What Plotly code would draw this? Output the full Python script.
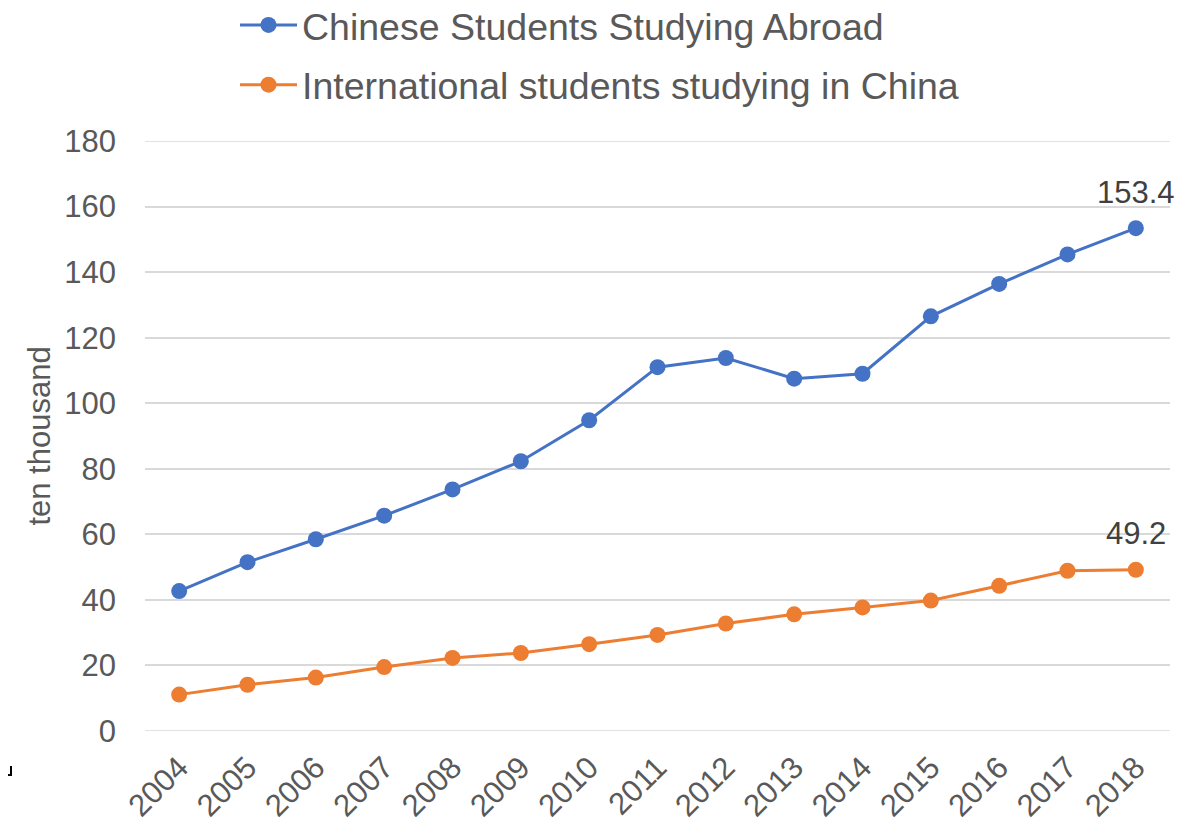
import plotly.graph_objects as go

years = ["2004", "2005", "2006", "2007", "2008", "2009", "2010", "2011",
         "2012", "2013", "2014", "2015", "2016", "2017", "2018"]
abroad = [42.7, 51.5, 58.5, 65.7, 73.7, 82.3, 94.8, 111.0, 113.8, 107.5,
          109.0, 126.5, 136.4, 145.4, 153.4]
in_china = [11.1, 14.1, 16.3, 19.5, 22.3, 23.8, 26.5, 29.3, 32.8, 35.6,
            37.7, 39.8, 44.3, 48.9, 49.2]
names = ["Chinese Students Studying Abroad", "International students studying in China"]
colors = ["#4472C4", "#ED7D31"]
y_ticks = [0, 20, 40, 60, 80, 100, 120, 140, 160, 180]

FONT = "Liberation Sans, Arial, sans-serif"

# page body has an 8px margin, so the figure is drawn at (8, 8)
OFF = 8
W, H = 1188 - OFF, 820 - OFF
L, T = 145 - OFF, 141 - OFF
R = W - (1170 - OFF)
B = H - (731 - OFF)
PW, PH = W - L - R, H - T - B


def px_to_paper(px, py):
    """screen pixel -> paper coordinates"""
    return (px - OFF - L) / PW, (H - B - (py - OFF)) / PH


fig = go.Figure()
for i, (name, vals, col) in enumerate(zip(names, [abroad, in_china], colors)):
    fig.add_trace(go.Scatter(
        x=years, y=vals, name=name, mode="lines+markers",
        legendgroup=f"g{i}",
        line=dict(color=col, width=3),
        marker=dict(color=col, size=16),
        cliponaxis=False,
    ))
    last = len(years) - 1  # category index of the last year
    fig.add_annotation(
        x=last, y=vals[last], text=f"{vals[last]:.1f}",
        xref="x", yref="y",
        showarrow=False, yanchor="middle", yshift=36,
        font=dict(family=FONT, size=31, color="#404040"),
    )

# gridlines at the range edges (plotly omits them at the plot border)
for v in (y_ticks[0], y_ticks[-1]):
    fig.add_shape(type="line", xref="paper", yref="y", x0=0, x1=1, y0=v, y1=v,
                  line=dict(color="#D9D9D9", width=1.5), layer="below")

# small corner mark at the lower left of the image
x0, y0 = px_to_paper(4, 775)
x1, y1 = px_to_paper(11, 775)
x2, y2 = px_to_paper(11, 766)
fig.add_shape(type="path", xref="paper", yref="paper",
              path=f"M {x0} {y0} L {x1} {y1} L {x2} {y2}",
              line=dict(color="black", width=2))

lx, ly = px_to_paper(235, -6)

fig.update_layout(
    width=W, height=H,
    margin=dict(l=L, r=R, t=T, b=B, autoexpand=False),
    paper_bgcolor="white", plot_bgcolor="white",
    font=dict(family=FONT, color="#595959"),
    showlegend=True,
    legend=dict(
        x=lx, y=ly, xanchor="left", yanchor="top",
        orientation="v",
        font=dict(family=FONT, size=37.5, color="#595959"),
        bgcolor="rgba(0,0,0,0)",
        tracegroupgap=8,
        traceorder="grouped",
        itemwidth=57,
    ),
    xaxis=dict(
        type="category", range=[-0.5, 14.5], automargin=False,
        tickangle=-45, tickfont=dict(size=31, color="#595959"),
        ticklabelstandoff=11,
        showgrid=False, showline=False, zeroline=False, ticks="",
    ),
    yaxis=dict(
        range=[0, 180], tickvals=y_ticks, automargin=False,
        tickfont=dict(size=31, color="#595959"),
        gridcolor="#D9D9D9", gridwidth=1.5,
        showline=False, zeroline=False, ticks="",
        ticklabelstandoff=28,
        title=dict(text="ten thousand", font=dict(size=31, color="#595959"), standoff=4),
    ),
)

fig.write_html("out.html")
